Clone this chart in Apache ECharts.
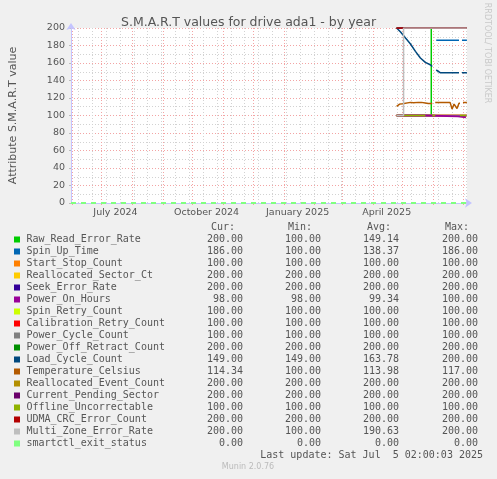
<!DOCTYPE html>
<html><head><meta charset="utf-8">
<script src="https://cdn.jsdelivr.net/npm/echarts@6.0.0/dist/echarts.min.js"></script>
<style>html,body{margin:0;padding:0;background:#f0f0f0}#c{width:497px;height:479px}</style>
</head><body><div id="c"></div><script>
// ---------- time range & ticks ----------
const startTime = '2024-05-31 02:00:00';
const endTime = '2025-07-05 02:00:00';
const monthTicks = ['2024-06-01','2024-07-01','2024-08-01','2024-09-01','2024-10-01','2024-11-01','2024-12-01',
  '2025-01-01','2025-02-01','2025-03-01','2025-04-01','2025-05-01','2025-06-01','2025-07-01'];
const xLabelDates = ['2024-07-15','2024-10-15','2025-01-15','2025-04-15'];
const xLabelTexts = ['July 2024','October 2024','January 2025','April 2025'];
const minorGridStart = '2024-06-07 12:00:00';
const minorGridDays = 14;
const yTickValues = [0,20,40,60,80,100,120,140,160,180,200];

// ---------- legend table ----------
const seriesNames = ['Raw_Read_Error_Rate','Spin_Up_Time','Start_Stop_Count','Reallocated_Sector_Ct','Seek_Error_Rate',
  'Power_On_Hours','Spin_Retry_Count','Calibration_Retry_Count','Power_Cycle_Count','Power_Off_Retract_Count',
  'Load_Cycle_Count','Temperature_Celsius','Reallocated_Event_Count','Current_Pending_Sector','Offline_Uncorrectable',
  'UDMA_CRC_Error_Count','Multi_Zone_Error_Rate','smartctl_exit_status'];
const seriesColors = ['#00cc00','#0066b3','#ff8000','#ffcc00','#330099','#990099','#ccff00','#ff0000','#808080','#008f00',
  '#00487d','#b35a00','#b38f00','#6b006b','#8fb300','#b30000','#bebebe','#80ff80'];
const curValues = ['200.00','186.00','100.00','200.00','200.00','98.00','100.00','100.00','100.00','200.00','149.00','114.34','200.00','200.00','100.00','200.00','200.00','0.00'];
const minValues = ['100.00','100.00','100.00','200.00','200.00','98.00','100.00','100.00','100.00','200.00','149.00','100.00','200.00','200.00','100.00','200.00','100.00','0.00'];
const avgValues = ['149.14','138.37','100.00','200.00','200.00','99.34','100.00','100.00','100.00','200.00','163.78','113.98','200.00','200.00','100.00','200.00','190.63','0.00'];
const maxValues = ['200.00','186.00','100.00','200.00','200.00','100.00','100.00','100.00','100.00','200.00','200.00','117.00','200.00','200.00','100.00','200.00','200.00','0.00'];

// ---------- series values ([date, value]) ----------
const rawReadErrorRate = [['2025-04-25',100],['2025-05-30',100],['2025-05-30',200],['2025-07-05',200]];
const spinUpTime = [['2025-04-25',100],['2025-06-02',100],['2025-06-03',null],['2025-06-04',186],['2025-06-27',186],['2025-06-28',null],['2025-06-30',186],['2025-07-05',186]];
const startStopCount = [['2025-04-25',100],['2025-07-05',100]];
const reallocatedSectorCt = [['2025-04-25',200],['2025-07-05',200]];
const seekErrorRate = [['2025-04-25',200],['2025-07-05',200]];
const powerOnHours = [['2025-04-25',100],['2025-05-24',100],['2025-05-25',99],['2025-06-26',99],['2025-06-27',98],['2025-07-04',98]];
const spinRetryCount = [['2025-04-25',100],['2025-07-05',100]];
const calibrationRetryCount = [['2025-04-25',100],['2025-07-05',100]];
const powerCycleCount = [['2025-04-25',100],['2025-07-05',100]];
const powerOffRetractCount = [['2025-04-25',200],['2025-07-05',200]];
const loadCycleCount = [['2025-04-25',200],['2025-04-29',195.4],['2025-05-04',188.5],['2025-05-09',181.7],['2025-05-14',173.3],
  ['2025-05-19',165.7],['2025-05-24',160.7],['2025-05-29',158],['2025-05-31',156],['2025-06-01',null],['2025-06-04',152],
  ['2025-06-06',150.5],['2025-06-08',149],['2025-06-27',149],['2025-06-28',null],['2025-06-30',149],['2025-07-05',149]];
const temperatureCelsius = [['2025-04-25',110.5],['2025-04-27',111.5],['2025-04-28',113],['2025-05-01',113.5],['2025-05-03',114.8],
  ['2025-05-09',115],['2025-05-12',114.5],['2025-05-14',114.3],['2025-05-17',115],['2025-05-20',115],['2025-05-22',114.5],
  ['2025-05-24',114.3],['2025-05-27',113.7],['2025-05-31',113.8],['2025-06-01',null],['2025-06-03',115],['2025-06-18',115],
  ['2025-06-19',113],['2025-06-20',107.5],['2025-06-21',108],['2025-06-22',113],['2025-06-24',113.5],['2025-06-25',108],
  ['2025-06-26',108.5],['2025-06-27',114],['2025-06-28',114],['2025-06-29',null],['2025-07-01',115],['2025-07-05',115]];
const reallocatedEventCount = [['2025-04-25',200],['2025-07-05',200]];
const currentPendingSector = [['2025-04-25',200],['2025-07-05',200]];
const offlineUncorrectable = [['2025-04-25',100],['2025-05-24',100],['2025-05-25',null],['2025-05-31',100],['2025-06-03',100],
  ['2025-06-04',null],['2025-06-28',100],['2025-07-04',100]];
const udmaCrcErrorCount = [['2025-04-25',200],['2025-07-05',200]];
const multiZoneErrorRate = [['2025-04-25',100],['2025-05-02',100],['2025-05-02',200],['2025-07-05',200]];
const smartctlExitStatus = [[startTime,0],[endTime,0]];

const seriesData = [rawReadErrorRate, spinUpTime, startStopCount, reallocatedSectorCt, seekErrorRate, powerOnHours,
  spinRetryCount, calibrationRetryCount, powerCycleCount, powerOffRetractCount, loadCycleCount, temperatureCelsius,
  reallocatedEventCount, currentPendingSector, offlineUncorrectable, udmaCrcErrorCount, multiZoneErrorRate, smartctlExitStatus];
// drawing order (later on top)
const drawOrder = [17,0,1,2,3,4,6,7,8,9,10,11,12,13,15,5,14,16];

// ---------- build ----------
const t = s => echarts.time.parse(s).getTime();
const DAY = 86400000;
const minorTicks = [];
for (let v = t(minorGridStart); v < t(endTime); v += minorGridDays * DAY) minorTicks.push(v);

const FONT = 'DejaVu Sans';
const MONO = 'DejaVu Sans Mono';
const TXT = '#555';
const majorGrid = { color: '#f3a4a4', width: 1, type: [1, 2] };
const minorGrid = { color: '#d2d2d2', width: 1, type: [1, 2] };
const axisColor = '#c4c4ff';

const series = drawOrder.map(i => ({
  name: seriesNames[i],
  type: 'line',
  xAxisIndex: 0,
  data: seriesData[i].map(p => [t(p[0]), p[1] === null ? '-' : p[1]]),
  showSymbol: false,
  connectNulls: false,
  lineStyle: i === 17 ? { color: seriesColors[i], width: 2, type: [5, 5] }
                      : { color: seriesColors[i], width: i === 5 ? 2 : 1.5 },
  itemStyle: { color: seriesColors[i] },
  emphasis: { disabled: true },
  silent: true,
  z: 3
}));

const colRight = [243, 321, 399, 478];
const headerRight = [235, 312, 391, 469];
const headers = ['Cur:', 'Min:', 'Avg:', 'Max:'];
const g = [];
headers.forEach((h, k) => g.push({ type: 'text', style: { text: h, x: headerRight[k], y: 227.5, textAlign: 'right', textVerticalAlign: 'middle', font: '10px "' + MONO + '"', fill: TXT } }));
seriesNames.forEach((n, i) => {
  const y = 239.5 + 12 * i;
  g.push({ type: 'rect', shape: { x: 14, y: y - 3, width: 6, height: 6 }, style: { fill: seriesColors[i] } });
  g.push({ type: 'text', style: { text: n, x: 26.5, y: y, textAlign: 'left', textVerticalAlign: 'middle', font: '10px "' + MONO + '"', fill: TXT } });
  [curValues, minValues, avgValues, maxValues].forEach((arr, k) => {
    g.push({ type: 'text', style: { text: arr[i], x: colRight[k], y: y, textAlign: 'right', textVerticalAlign: 'middle', font: '10px "' + MONO + '"', fill: TXT } });
  });
});
g.push({ type: 'text', style: { text: 'Last update: Sat Jul  5 02:00:03 2025', x: 483, y: 455.5, textAlign: 'right', textVerticalAlign: 'middle', font: '10px "' + MONO + '"', fill: TXT } });
g.push({ type: 'text', style: { text: 'Munin 2.0.76', x: 248, y: 467, textAlign: 'center', textVerticalAlign: 'middle', font: '8px "' + FONT + '"', fill: '#bbbbbb' } });
g.push({ type: 'text', x: 487, y: 53, rotation: -Math.PI / 2, style: { text: 'RRDTOOL/ TOBI OETIKER', x: 0, y: 0, textAlign: 'center', textVerticalAlign: 'middle', font: '8px "' + FONT + '"', fill: '#c8c8c8' } });

const labelFor = v => { let best = 0; xLabelDates.forEach((d, i) => { if (Math.abs(t(d) - v) < Math.abs(t(xLabelDates[best]) - v)) best = i; }); return xLabelTexts[best]; };

const chart = echarts.init(document.getElementById('c'), null, { renderer: 'canvas' });
chart.setOption({
  animation: false,
  backgroundColor: '#f0f0f0',
  textStyle: { fontFamily: FONT },
  title: {
    text: 'S.M.A.R.T values for drive ada1 - by year',
    left: 'center', top: 11,
    textStyle: { fontFamily: FONT, fontSize: 12.5, fontWeight: 'normal', color: TXT }
  },
  grid: { left: 67, right: 30, top: 28, bottom: 276, show: true, backgroundColor: '#ffffff', borderWidth: 0, containLabel: false },
  xAxis: [{
    type: 'value',
    min: t(startTime), max: t(endTime),
    axisLine: { show: true, onZero: false, lineStyle: { color: axisColor, width: 1 }, symbol: ['none', 'arrow'], symbolSize: [7, 7], symbolOffset: [0, 5] },
    axisTick: { show: true, length: 2, lineStyle: { color: '#f3a4a4' }, customValues: monthTicks.map(t) },
    axisLabel: {
      show: true, customValues: xLabelDates.map(t), margin: 5, color: TXT, fontFamily: FONT, fontSize: 9.5,
      hideOverlap: false, showMinLabel: true, showMaxLabel: true,
      formatter: labelFor
    },
    splitLine: { show: true, lineStyle: majorGrid }
  }, {
    type: 'value',
    position: 'top',
    min: t(startTime), max: t(endTime),
    axisLine: { show: false },
    axisTick: { show: false, customValues: minorTicks },
    axisLabel: { show: false, customValues: minorTicks },
    splitLine: { show: true, lineStyle: minorGrid }
  }],
  yAxis: {
    type: 'value',
    min: yTickValues[0], max: yTickValues[yTickValues.length - 1], interval: 20,
    name: 'Attribute S.M.A.R.T value',
    nameLocation: 'middle', nameRotate: 90, nameGap: 52,
    nameTextStyle: { fontFamily: FONT, fontSize: 11, color: TXT },
    axisLine: { show: true, lineStyle: { color: axisColor, width: 1 }, symbol: ['none', 'arrow'], symbolSize: [7, 7], symbolOffset: [0, 5] },
    axisTick: { show: true, length: 2, lineStyle: { color: '#bbbbbb' } },
    axisLabel: { margin: 6, color: TXT, fontFamily: FONT, fontSize: 9.5 },
    splitLine: { show: true, lineStyle: majorGrid },
    minorTick: { show: false, splitNumber: 2 },
    minorSplitLine: { show: true, lineStyle: minorGrid }
  },
  graphic: { elements: g },
  series: series
});
</script></body></html>
